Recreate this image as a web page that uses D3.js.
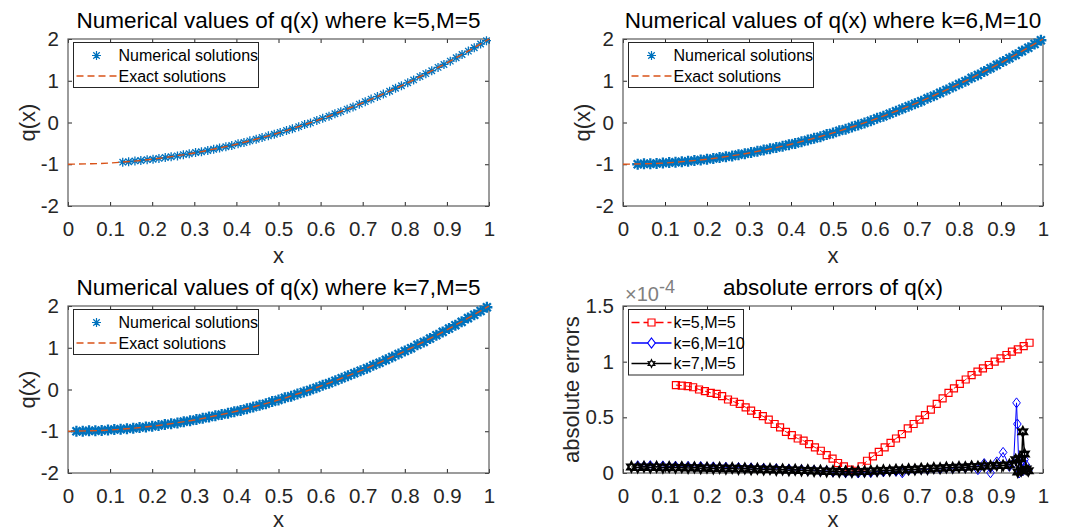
<!DOCTYPE html>
<html>
<head>
<meta charset="utf-8">
<script src="https://cdn.jsdelivr.net/npm/d3@7"></script>
<style>
body { margin: 0; background: #fff; }
svg { display: block; font-family: "Liberation Sans", Arial, sans-serif; }
</style>
</head>
<body>
<svg id="vis" width="1067" height="532"></svg>
<script>
/**
 * Data
 */
var xTicks = [0, 0.1, 0.2, 0.3, 0.4, 0.5, 0.6, 0.7, 0.8, 0.9, 1];
var qTicks = [-2, -1, 0, 1, 2];
var errTicks = [0, 0.5, 1, 1.5];   // in units of 1e-4

// exact solution, sampled along the dashed curve
var exactX = [0, 0.05, 0.1, 0.15, 0.2, 0.25, 0.3, 0.35, 0.4, 0.45, 0.5, 0.55, 0.6, 0.65, 0.7, 0.75, 0.8, 0.85, 0.9, 0.95, 1];
var exactQ = [-1, -0.99, -0.97, -0.93, -0.88, -0.81, -0.73, -0.63, -0.52, -0.39, -0.25, -0.09, 0.08, 0.27, 0.47, 0.69, 0.92, 1.17, 1.43, 1.71, 2];

// k=5, M=5 numerical points
var numX1 = [0.130,0.144,0.159,0.173,0.188,0.202,0.216,0.231,0.245,0.260,0.274,0.288,0.303,0.317,0.332,0.346,0.360,0.375,0.389,0.404,
    0.418,0.432,0.447,0.461,0.476,0.490,0.504,0.519,0.533,0.548,0.562,0.576,0.591,0.605,0.620,0.634,0.648,0.663,0.677,0.692,
    0.706,0.720,0.735,0.749,0.764,0.778,0.792,0.807,0.821,0.836,0.850,0.864,0.879,0.893,0.908,0.922,0.936,0.951,0.965,0.980,0.994];
var numQ1 = [-0.95,-0.94,-0.92,-0.91,-0.89,-0.88,-0.86,-0.84,-0.82,-0.80,-0.77,-0.75,-0.72,-0.70,-0.67,-0.64,-0.61,-0.58,-0.55,-0.51,
    -0.48,-0.44,-0.40,-0.36,-0.32,-0.28,-0.24,-0.19,-0.15,-0.10,-0.05,-0.01,0.05,0.10,0.15,0.21,0.26,0.32,0.37,0.44,
    0.50,0.56,0.62,0.68,0.75,0.82,0.88,0.95,1.02,1.10,1.17,1.24,1.32,1.39,1.47,1.55,1.63,1.71,1.79,1.88,1.96];

// k=6, M=10 numerical points
var numX2 = [0.035,0.050,0.065,0.080,0.095,0.110,0.125,0.140,0.155,0.170,0.185,0.200,0.215,0.230,0.245,0.260,0.275,0.290,0.305,
    0.320,0.335,0.350,0.365,0.380,0.395,0.410,0.425,0.440,0.455,0.470,0.485,0.500,0.515,0.530,0.545,0.560,0.575,0.590,0.605,
    0.620,0.635,0.650,0.665,0.680,0.695,0.710,0.725,0.740,0.755,0.770,0.785,0.800,0.815,0.830,0.845,0.860,0.875,0.890,0.905,
    0.920,0.935,0.950,0.965,0.980,0.995];
var numQ2 = [-1.00,-0.99,-0.99,-0.98,-0.97,-0.96,-0.95,-0.94,-0.93,-0.91,-0.90,-0.88,-0.86,-0.84,-0.82,-0.80,-0.77,-0.75,-0.72,
    -0.69,-0.66,-0.63,-0.60,-0.57,-0.53,-0.50,-0.46,-0.42,-0.38,-0.34,-0.29,-0.25,-0.20,-0.16,-0.11,-0.06,-0.01,0.04,0.10,
    0.15,0.21,0.27,0.33,0.39,0.45,0.51,0.58,0.64,0.71,0.78,0.85,0.92,0.99,1.07,1.14,1.22,1.30,1.38,1.46,
    1.54,1.62,1.71,1.79,1.88,1.97];

// k=7, M=5 numerical points
var numX3 = [0.020,0.035,0.050,0.065,0.080,0.095,0.110,0.125,0.140,0.155,0.170,0.185,0.200,0.215,0.230,0.245,0.260,0.275,0.290,0.305,
    0.320,0.335,0.350,0.365,0.380,0.395,0.410,0.425,0.440,0.455,0.470,0.485,0.500,0.515,0.530,0.545,0.560,0.575,0.590,0.605,
    0.620,0.635,0.650,0.665,0.680,0.695,0.710,0.725,0.740,0.755,0.770,0.785,0.800,0.815,0.830,0.845,0.860,0.875,0.890,0.905,
    0.920,0.935,0.950,0.965,0.980,0.995];
var numQ3 = [-1.00,-1.00,-0.99,-0.99,-0.98,-0.97,-0.96,-0.95,-0.94,-0.93,-0.91,-0.90,-0.88,-0.86,-0.84,-0.82,-0.80,-0.77,-0.75,-0.72,
    -0.69,-0.66,-0.63,-0.60,-0.57,-0.53,-0.50,-0.46,-0.42,-0.38,-0.34,-0.29,-0.25,-0.20,-0.16,-0.11,-0.06,-0.01,0.04,0.10,
    0.15,0.21,0.27,0.33,0.39,0.45,0.51,0.58,0.64,0.71,0.78,0.85,0.92,0.99,1.07,1.14,1.22,1.30,1.38,1.46,
    1.54,1.62,1.71,1.79,1.88,1.97];

// absolute errors (x 1e-4)
var errX5 = [0.126,0.140,0.154,0.167,0.181,0.195,0.209,0.223,0.236,0.250,0.264,0.278,0.292,0.305,0.319,0.333,0.347,0.361,0.374,0.388,
    0.402,0.416,0.430,0.443,0.457,0.471,0.485,0.499,0.512,0.526,0.540,0.554,0.568,0.581,0.595,0.609,0.623,0.637,0.650,0.664,
    0.678,0.692,0.706,0.719,0.733,0.747,0.761,0.775,0.788,0.802,0.816,0.830,0.844,0.857,0.871,0.885,0.899,0.913,0.926,0.940,0.954,0.968];
var errK5 = [0.79,0.785,0.78,0.77,0.75,0.735,0.72,0.71,0.69,0.66,0.64,0.62,0.59,0.56,0.53,0.51,0.48,0.44,0.41,0.37,
    0.34,0.31,0.29,0.26,0.23,0.20,0.16,0.13,0.09,0.06,0.03,0.02,0.06,0.11,0.15,0.19,0.23,0.27,0.31,0.35,
    0.40,0.44,0.48,0.52,0.57,0.62,0.67,0.72,0.76,0.80,0.84,0.88,0.91,0.94,0.97,1.00,1.03,1.06,1.09,1.11,1.14,1.17];

var errX6 = [0.035,0.050,0.065,0.080,0.095,0.110,0.125,0.140,0.155,0.170,0.185,0.200,0.215,0.230,0.245,0.260,0.275,0.290,0.305,
    0.320,0.335,0.350,0.365,0.380,0.395,0.410,0.425,0.440,0.455,0.470,0.485,0.500,0.515,0.530,0.545,0.560,0.575,0.590,0.605,
    0.620,0.635,0.650,0.665,0.680,0.695,0.710,0.725,0.740,0.755,0.770,0.785,0.800,0.815,0.830,0.845,0.860,0.875,0.890,0.905,0.920,
    0.930,0.937,0.939,0.943,0.948,0.952,0.956,0.960,0.965];
var errK6 = [0.065,0.060,0.066,0.058,0.064,0.057,0.062,0.055,0.060,0.053,0.058,0.051,0.055,0.048,0.052,0.045,0.049,0.042,0.046,
    0.039,0.043,0.035,0.039,0.031,0.035,0.027,0.030,0.022,0.025,0.016,0.019,0.008,0.012,0.002,0.006,0.000,0.008,0.004,0.014,
    0.010,0.020,0.015,0.002,0.026,0.030,0.034,0.031,0.040,0.036,0.046,0.042,0.052,0.047,0.058,0.030,0.085,0.002,0.100,0.185,0.060,
    0.090,0.630,0.440,0.000,0.100,0.020,0.120,0.070,0.020];

var errX7 = [0.020,0.035,0.050,0.065,0.080,0.095,0.110,0.125,0.140,0.155,0.170,0.185,0.200,0.215,0.230,0.245,0.260,0.275,0.290,0.305,
    0.320,0.335,0.350,0.365,0.380,0.395,0.410,0.425,0.440,0.455,0.470,0.485,0.500,0.515,0.530,0.545,0.560,0.575,0.590,0.605,
    0.620,0.635,0.650,0.665,0.680,0.695,0.710,0.725,0.740,0.755,0.770,0.785,0.800,0.815,0.830,0.845,0.860,0.875,0.890,0.905,
    0.920,0.935,0.940,0.944,0.948,0.952,0.956,0.960,0.965];
var errK7 = [0.055,0.050,0.056,0.049,0.055,0.048,0.054,0.047,0.052,0.045,0.050,0.043,0.048,0.041,0.046,0.039,0.044,0.037,0.041,0.034,
    0.038,0.031,0.035,0.028,0.032,0.025,0.029,0.022,0.025,0.018,0.021,0.014,0.017,0.011,0.014,0.010,0.015,0.013,0.019,0.018,
    0.024,0.022,0.029,0.027,0.034,0.032,0.039,0.037,0.044,0.042,0.049,0.047,0.054,0.052,0.059,0.057,0.064,0.062,0.069,0.067,
    0.074,0.120,0.010,0.130,0.020,0.370,0.170,0.035,0.020];

/**
 * Global stuff
 */
var _vis = d3.select("#vis");
const FONT = '"Liberation Sans", Arial, sans-serif';
const AXIS_COLOR = "#262626";
const NUM_BLUE = "#0072BD";
const EXACT_ORANGE = "#D95319";

// marker shapes
function starPath(r){
    var d = r * 0.72;
    return "M" + (-r) + ",0H" + r + "M0," + (-r) + "V" + r +
        "M" + (-d) + "," + (-d) + "L" + d + "," + d + "M" + (-d) + "," + d + "L" + d + "," + (-d);
}
var STAR = starPath(4.5);
var STAR_BIG = starPath(5.5);
var SQUARE = "M-3.5,-3.5H3.5V3.5H-3.5Z";
var DIAMOND = "M0,-5L3.8,0L0,5L-3.8,0Z";
function hexagramPath(R, r){
    var pts = d3.range(12).map(function(i){
        var rad = (i % 2 === 0) ? R : r;
        var a = -Math.PI / 2 + i * Math.PI / 6;
        return [rad * Math.cos(a), rad * Math.sin(a)];
    });
    return "M" + pts.map(p => p[0].toFixed(2) + "," + p[1].toFixed(2)).join("L") + "Z";
}
var HEXAGRAM = hexagramPath(4.6, 2.5);
var HEXAGRAM_LEG = hexagramPath(3.8, 2.0);

function fmtTick(d){
    return String(+d.toFixed(2));
}

/**
 * Function setupAxes: draws box, ticks and labels for one subplot
 */
function setupAxes(box, yDomain, yTickVals, title, yLabel, yLabelX, titleY, xLabelY){
    var w = box.right - box.left, h = box.bottom - box.top;
    var g = _vis.append("g").attr("transform", "translate(" + box.left + "," + box.top + ")");
    var x = d3.scaleLinear().domain([0, 1]).range([0, w]);
    var y = d3.scaleLinear().domain(yDomain).range([h, 0]);

    g.append("rect").attr("width", w).attr("height", h).attr("fill", "#fff");

    var axes = [
        g.append("g").attr("transform", "translate(0," + h + ")")
            .call(d3.axisBottom(x).tickValues(xTicks).tickSizeInner(-4).tickSizeOuter(0).tickPadding(15).tickFormat(fmtTick)),
        g.append("g")
            .call(d3.axisLeft(y).tickValues(yTickVals).tickSizeInner(-4).tickSizeOuter(0).tickPadding(9).tickFormat(fmtTick)),
        g.append("g")
            .call(d3.axisTop(x).tickValues(xTicks).tickSizeInner(-4).tickSizeOuter(0).tickFormat("")),
        g.append("g").attr("transform", "translate(" + w + ",0)")
            .call(d3.axisRight(y).tickValues(yTickVals).tickSizeInner(-4).tickSizeOuter(0).tickFormat(""))
    ];
    axes.forEach(function(a){
        a.attr("font-family", FONT).attr("font-size", 20.5);
        a.select(".domain").remove();
        a.selectAll(".tick line").attr("stroke", AXIS_COLOR);
        a.selectAll(".tick text").attr("fill", AXIS_COLOR);
    });

    g.append("rect").attr("width", w).attr("height", h)
        .attr("fill", "none").attr("stroke", "#5a5a5a").attr("stroke-width", 1.2);

    // title
    _vis.append("text")
        .attr("x", (box.left + box.right) / 2).attr("y", titleY)
        .attr("text-anchor", "middle")
        .attr("font-size", 22.5).attr("fill", "#000")
        .text(title);

    // x label
    _vis.append("text")
        .attr("x", (box.left + box.right) / 2).attr("y", xLabelY)
        .attr("text-anchor", "middle")
        .attr("font-size", 22).attr("fill", AXIS_COLOR)
        .text("x");

    // y label
    _vis.append("text")
        .attr("transform", "translate(" + yLabelX + "," + ((box.top + box.bottom) / 2) + ") rotate(-90)")
        .attr("text-anchor", "middle")
        .attr("font-size", 22).attr("fill", AXIS_COLOR)
        .text(yLabel);

    return {g: g, x: x, y: y, w: w, h: h};
}

function drawMarkers(p, xs, ys, shape, color, sw){
    p.g.append("g").selectAll("path")
        .data(d3.zip(xs, ys))
        .enter()
        .append("path")
        .attr("transform", d => "translate(" + p.x(d[0]) + "," + p.y(d[1]) + ")")
        .attr("d", shape)
        .attr("fill", "none")
        .attr("stroke", color)
        .attr("stroke-width", sw || 1);
}

function drawLine(p, xs, ys, color, dash, sw, curve){
    var line = d3.line()
        .x(d => p.x(d[0]))
        .y(d => p.y(d[1]));
    if (curve) line.curve(curve);
    p.g.append("path")
        .datum(d3.zip(xs, ys))
        .attr("d", line)
        .attr("fill", "none")
        .attr("stroke", color)
        .attr("stroke-width", sw || 1)
        .attr("stroke-dasharray", dash);
}

function drawLegend(box, entries, width){
    var lx = box.left + 5, ly = box.top + 3;
    var rowH = 20.5;
    var h = entries.length * rowH + 4;
    var lg = _vis.append("g").attr("transform", "translate(" + (lx + 0.5) + "," + (ly + 0.5) + ")");
    lg.append("rect").attr("width", width).attr("height", h)
        .attr("fill", "#fff").attr("stroke", "#262626").attr("stroke-width", 1);
    entries.forEach(function(e, i){
        var cy = 13 + i * rowH;
        if (e.dash !== undefined) {
            lg.append("line").attr("x1", 3).attr("x2", 43).attr("y1", cy).attr("y2", cy)
                .attr("stroke", e.color).attr("stroke-width", 1.3).attr("stroke-dasharray", e.dash);
        }
        if (e.marker) {
            lg.append("path").attr("transform", "translate(23," + cy + ")")
                .attr("d", e.marker).attr("fill", e.dash !== undefined ? "#fff" : "none")
                .attr("stroke", e.color).attr("stroke-width", 1.2);
        }
        lg.append("text").attr("x", 45).attr("y", cy + 5.5)
            .attr("font-size", 16).attr("fill", "#000")
            .text(e.label);
    });
}

/**
 * Subplots
 */
var boxes = [
    {left: 68, right: 489, top: 39, bottom: 206},
    {left: 623, right: 1043, top: 39, bottom: 206},
    {left: 68, right: 489, top: 306, bottom: 473},
    {left: 623, right: 1043, top: 306, bottom: 473}
];

var numSets = [[numX1, numQ1, "k=5,M=5"], [numX2, numQ2, "k=6,M=10"], [numX3, numQ3, "k=7,M=5"]];

numSets.forEach(function(s, i){
    var b = boxes[i];
    var top = i < 2;
    var p = setupAxes(b, [-2, 2], qTicks,
        "Numerical values of q(x) where " + s[2], "q(x)",
        b.left - 33, top ? 28 : 295, top ? 263 : 527);
    if (i === 0) drawMarkers(p, s[0], s[1], STAR, NUM_BLUE, 1.3);
    else drawMarkers(p, s[0], s[1], STAR_BIG, NUM_BLUE, 2.3);
    drawLine(p, exactX, exactQ, EXACT_ORANGE, "7,4", 1.4, d3.curveMonotoneX);
    drawLegend(b, [
        {label: "Numerical solutions", marker: STAR, color: NUM_BLUE},
        {label: "Exact solutions", dash: "7,4", color: EXACT_ORANGE}
    ], 185);
});

// errors subplot
var pe = setupAxes(boxes[3], [0, 1.5], errTicks, "absolute errors of q(x)", "absolute errors",
    boxes[3].left - 44, 295, 527);

drawLine(pe, errX5, errK5, "#f00", "6,4", 1);
drawMarkers(pe, errX5, errK5, SQUARE, "#f00", 1.2);
drawLine(pe, errX6, errK6, "#00f", null, 1);
drawMarkers(pe, errX6, errK6, DIAMOND, "#00f", 1);
drawLine(pe, errX7, errK7, "#000", null, 1.5);
drawMarkers(pe, errX7, errK7, HEXAGRAM, "#000", 2.2);

// exponent label
var expo = _vis.append("text")
    .attr("x", boxes[3].left + 2).attr("y", 301)
    .attr("font-size", 20).attr("fill", "#808080");
expo.append("tspan").text("\u00d710");
expo.append("tspan").attr("dy", -8).attr("font-size", 18).text("-4");

drawLegend(boxes[3], [
    {label: "k=5,M=5", marker: SQUARE, color: "#f00", dash: "8,4"},
    {label: "k=6,M=10", marker: DIAMOND, color: "#00f", dash: null},
    {label: "k=7,M=5", marker: HEXAGRAM_LEG, color: "#000", dash: null}
], 115);
</script>
</body>
</html>
